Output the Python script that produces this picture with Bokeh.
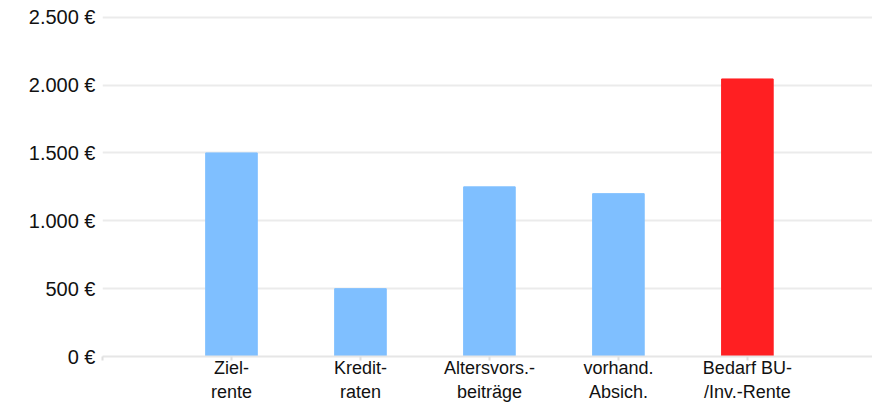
from bokeh.plotting import figure
from bokeh.models import Range1d, FixedTicker, ColumnDataSource
from bokeh.embed import file_html
from bokeh.resources import INLINE

# Monthly amounts per position
categories = ["Ziel-\nrente", "Kredit-\nraten", "Altersvors.-\nbeiträge",
              "vorhand.\nAbsich.", "Bedarf BU-\n/Inv.-Rente"]
amounts = [1500, 500, 1250, 1200, 2045]
bar_colors = ["#7fbfff", "#7fbfff", "#7fbfff", "#7fbfff", "#ff1f22"]

y_ticks = [0, 500, 1000, 1500, 2000, 2500]
y_tick_labels = ["0 €", "500 €", "1.000 €", "1.500 €", "2.000 €", "2.500 €"]

positions = list(range(1, len(categories) + 1))

source = ColumnDataSource(dict(x=positions, top=amounts, color=bar_colors))

p = figure(
    width=872, height=404,
    output_backend="svg", toolbar_location=None,
    x_range=Range1d(0, 5.97), y_range=Range1d(0, 2520),
    min_border_left=102, min_border_right=0, min_border_top=14,
    min_border_bottom=40,
)

p.vbar(x="x", top="top", width=0.4, color="color", source=source)

# axes
p.xaxis.ticker = FixedTicker(ticks=[0] + positions)
p.xaxis.major_label_overrides = {0: ""} | {i: c for i, c in zip(positions, categories)}
p.xaxis.axis_line_color = "#e6e6e6"
p.xaxis.axis_line_width = 2
p.xaxis.major_tick_line_color = "#e0e0e0"
p.xaxis.major_tick_line_width = 2
p.xaxis.major_tick_out = 4
p.xaxis.major_tick_in = 0
p.xaxis.minor_tick_line_color = None
p.xaxis.major_label_standoff = -3
p.xaxis.major_label_text_font = "Liberation Sans"
p.xaxis.major_label_text_font_size = "18px"
p.xaxis.major_label_text_color = "#111111"

p.yaxis.ticker = FixedTicker(ticks=y_ticks)
p.yaxis.major_label_overrides = {t: l for t, l in zip(y_ticks, y_tick_labels)}
p.yaxis.axis_line_color = None
p.yaxis.major_tick_line_color = None
p.yaxis.minor_tick_line_color = None
p.yaxis.major_label_standoff = 1
p.yaxis.major_label_text_font = "Liberation Sans"
p.yaxis.major_label_text_font_size = "20px"
p.yaxis.major_label_text_color = "#111111"

# grid
p.xgrid.grid_line_color = None
p.ygrid.grid_line_color = "#ebebeb"
p.ygrid.grid_line_width = 2
p.outline_line_color = None

open("out.html", "w").write(file_html(p, INLINE))
